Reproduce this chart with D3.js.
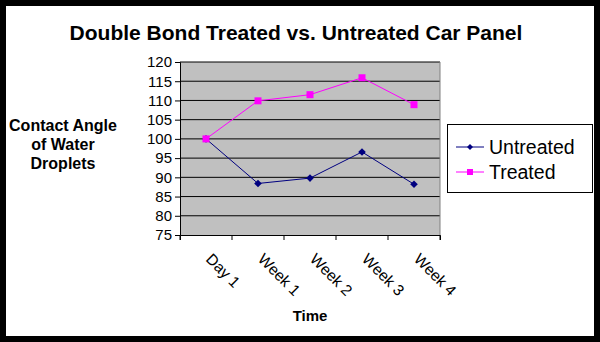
<!DOCTYPE html>
<html><head><meta charset="utf-8">
<script src="https://cdn.jsdelivr.net/npm/d3@7/dist/d3.min.js"></script>
<style>body{margin:0;background:#000;} svg{display:block;font-family:"Liberation Sans",Arial,sans-serif;}</style>
</head><body>
<svg id="c" width="600" height="342"></svg>
<script>
const categories = ["Day 1", "Week 1", "Week 2", "Week 3", "Week 4"];
const untreated = [100, 88.4, 89.8, 96.6, 88.2];
const treated = [100, 109.9, 111.5, 115.9, 108.9];
const yTicks = [75, 80, 85, 90, 95, 100, 105, 110, 115, 120];
const seriesNames = ["Untreated", "Treated"];
const seriesColors = ["#000080", "#ff00ff"];

const svg = d3.select("#c");
svg.append("rect").attr("x",0).attr("y",0).attr("width",600).attr("height",342).attr("fill","#000");
svg.append("rect").attr("x",6).attr("y",6).attr("width",588).attr("height",330).attr("fill","#fff");

const L=180, R=440, T=62, B=235;
const x = d3.scaleBand().domain(categories).range([L,R]).padding(0);
const y = d3.scaleLinear().domain([75,120]).range([B,T]);

svg.append("text").attr("x",296).attr("y",40).attr("text-anchor","middle")
  .attr("font-size",21).attr("font-weight","bold").text("Double Bond Treated vs. Untreated Car Panel");

svg.append("rect").attr("x",L).attr("y",T).attr("width",R-L).attr("height",B-T).attr("fill","#c0c0c0");
svg.append("g").selectAll("line").data(yTicks.filter(d=>d>75)).join("line")
  .attr("x1",L).attr("x2",R).attr("y1",d=>y(d)).attr("y2",d=>y(d)).attr("stroke","#000").attr("stroke-width",1);
svg.append("line").attr("x1",R).attr("x2",R).attr("y1",T).attr("y2",B).attr("stroke","#808080");

const ya = svg.append("g").attr("transform",`translate(${L},0)`)
  .call(d3.axisLeft(y).tickValues(yTicks).tickSize(5).tickPadding(3));
ya.select(".domain").attr("stroke","#000");
ya.selectAll("text").attr("font-size",15).attr("fill","#000").attr("font-family","Liberation Sans, Arial, sans-serif");

const xa = svg.append("g").attr("transform",`translate(0,${B})`)
  .call(d3.axisBottom(x).tickSize(5).tickFormat(""));
xa.selectAll(".tick").remove();
const edges = d3.range(categories.length+1).map(i=>L+i*x.bandwidth());
xa.selectAll("line.t").data(edges).join("line").attr("class","t")
  .attr("x1",d=>d).attr("x2",d=>d).attr("y1",0).attr("y2",5).attr("stroke","#000");
xa.select(".domain").attr("stroke","#000");

svg.append("g").selectAll("text").data(categories).join("text")
  .attr("transform",d=>`translate(${x(d)+x.bandwidth()/2-1},${B+25}) rotate(45)`)
  .attr("font-size",15.5).attr("fill","#000").text(d=>d);

svg.append("text").attr("x",310).attr("y",321).attr("text-anchor","middle")
  .attr("font-size",15).attr("font-weight","bold").text("Time");

const yl = svg.append("text").attr("text-anchor","middle").attr("font-size",16).attr("font-weight","bold");
["Contact Angle","of Water","Droplets"].forEach((s,i)=>yl.append("tspan").attr("x",63).attr("y",131+i*19).text(s));

const cx = d => x(d)+x.bandwidth()/2;
const line = d3.line().x((d,i)=>cx(categories[i])).y(d=>y(d));
[untreated, treated].forEach((vals,k)=>{
  svg.append("path").datum(vals).attr("d",line).attr("fill","none").attr("stroke",seriesColors[k]).attr("stroke-width",1);
});
const dia = r => `M0,${-r}L${r},0L0,${r}L${-r},0Z`;
svg.append("g").selectAll("path").data(untreated).join("path")
  .attr("d",dia(3.8))
  .attr("transform",(d,i)=>`translate(${cx(categories[i])},${y(d)})`).attr("fill",seriesColors[0]);
svg.append("g").selectAll("rect").data(treated).join("rect")
  .attr("x",(d,i)=>cx(categories[i])-3.5).attr("y",d=>y(d)-3.5).attr("width",7).attr("height",7).attr("fill",seriesColors[1]);

const lg = svg.append("g");
lg.append("rect").attr("x",447.5).attr("y",124.5).attr("width",145).attr("height",68).attr("fill","#fff").attr("stroke","#000");
seriesNames.forEach((n,k)=>{
  const yy = 147 + k*25;
  lg.append("line").attr("x1",456).attr("x2",484).attr("y1",yy).attr("y2",yy).attr("stroke",seriesColors[k]);
  if(k===0) lg.append("path").attr("d",dia(3)).attr("transform",`translate(470,${yy})`).attr("fill",seriesColors[k]);
  else lg.append("rect").attr("x",467).attr("y",yy-3).attr("width",6).attr("height",6).attr("fill",seriesColors[k]);
  lg.append("text").attr("x",489).attr("y",yy+7).attr("font-size",19.5).attr("fill","#000").text(n);
});
</script>
</body></html>
